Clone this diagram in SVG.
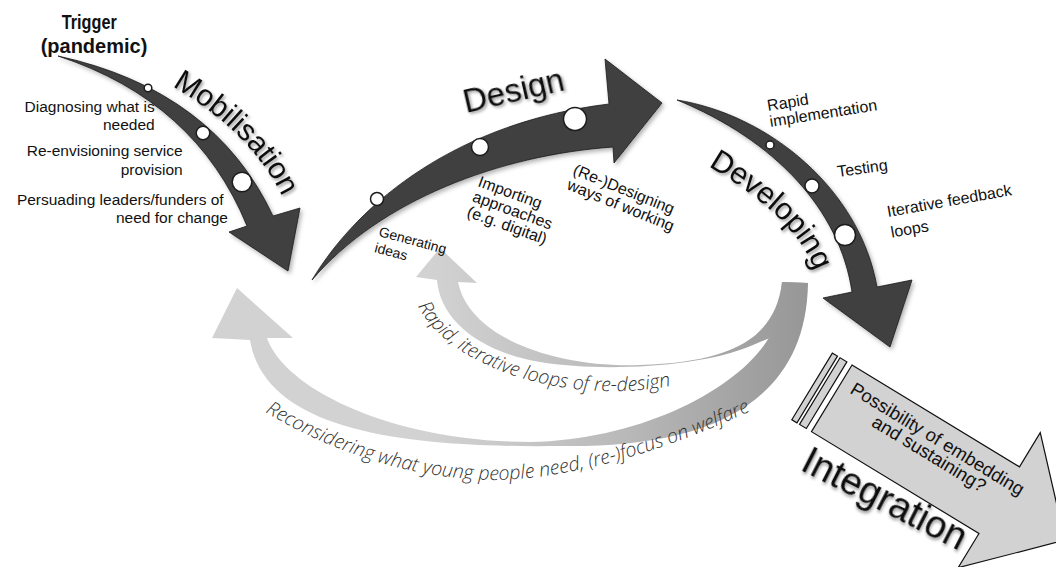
<svg xmlns="http://www.w3.org/2000/svg" width="1056" height="567" viewBox="0 0 1056 567">
  <style>
    .lbl { font-family: "Liberation Sans", Arial, sans-serif; font-size: 15.5px; fill: #111; }
    .lbl16 { font-family: "Liberation Sans", Arial, sans-serif; font-size: 16px; fill: #111; }
    .big { font-family: "Liberation Sans", Arial, sans-serif; fill: #111; }
    .hand { font-family: "Open Sans", "DejaVu Sans", sans-serif; font-style: italic; font-weight: 300; fill: #333; }
    .phase { fill: #3f3f3f; stroke: #1c1c1c; stroke-width: 0.8; }
    .dot { fill: #fff; stroke: #1c1c1c; stroke-width: 1.5; }
    .band { fill: #d2d2d2; stroke: #111; stroke-width: 1.2; }
  </style>
  <defs>
    <filter id="shade" x="-10%" y="-10%" width="130%" height="130%">
      <feDropShadow dx="2" dy="2.5" stdDeviation="2" flood-color="#000" flood-opacity="0.3"/>
    </filter>
    <filter id="tshade" x="-10%" y="-20%" width="130%" height="150%">
      <feDropShadow dx="1.5" dy="2" stdDeviation="1.5" flood-color="#000" flood-opacity="0.4"/>
    </filter>
    <linearGradient id="loopFill" gradientUnits="userSpaceOnUse" x1="430" y1="0" x2="805" y2="0">
      <stop offset="0" stop-color="#d2d2d2"/>
      <stop offset="0.5" stop-color="#bababa"/>
      <stop offset="1" stop-color="#979797"/>
    </linearGradient>
    <path id="pMob" d="M172,86 Q252,133 283,198"/>
    <path id="pDev" d="M708,166 Q797,218 815,272"/>
    <path id="pRapid" d="M418,306 C455,378 600,412 700,378"/>
    <path id="pRecon" d="M265,412 Q380,480 500,480 Q615,476 770,402"/>
  </defs>

  <rect width="1056" height="567" fill="#fff"/>

  <!-- feedback loops back into earlier phases -->
  <g id="connectors">
    <path id="loop-outer" fill="url(#loopFill)" d="M237,288 L293,338 L267,338 C285,390 395,442 530,442 C650,440 755,380 775,325 Q781,305 782,282 L808,283 C806,420 680,448 560,446 C400,448 265,430 250,340 L212,338 Z"/>
    <path id="loop-inner" fill="url(#loopFill)" d="M440,248 L477,283 L458,282 C470,340 560,368 640,365 C730,362 775,340 782,282 L808,283 L800,325 L753,345 C700,368 600,372 540,362 C480,352 440,320 437,280 L416,277 Z"/>
    <text class="hand" font-size="19.5"><textPath href="#pRapid">Rapid, iterative loops of re-design</textPath></text>
    <text class="hand" font-size="19.5"><textPath href="#pRecon">Reconsidering what young people need, (re-)focus on welfare</textPath></text>
  </g>

  <g id="trigger">
    <text class="big" font-weight="bold" font-size="20" text-anchor="middle">
      <tspan x="92" y="29" textLength="55" lengthAdjust="spacingAndGlyphs">Trigger</tspan>
      <tspan x="94" y="53">(pandemic)</tspan>
    </text>
  </g>

  <g id="mobilisation">
    <path class="phase" filter="url(#shade)" d="M58,56 Q214,90 273,216 L300,208 L288,271 L229,232 L247,226 Q196,101 58,56 Z"/>
    <circle class="dot" cx="148" cy="88" r="3.8"/>
    <circle class="dot" cx="203" cy="133" r="6.8"/>
    <circle class="dot" cx="242" cy="182" r="9.8"/>
    <text class="big" font-size="30" filter="url(#tshade)"><textPath href="#pMob">Mobilisation</textPath></text>
    <text class="lbl" text-anchor="end">
      <tspan x="159" y="112">Diagnosing what is</tspan>
      <tspan x="159" y="130">needed</tspan>
      <tspan x="187" y="156">Re-envisioning service</tspan>
      <tspan x="187" y="175">provision</tspan>
      <tspan x="228" y="205">Persuading leaders/funders of</tspan>
      <tspan x="228" y="223">need for change</tspan>
    </text>
  </g>

  <g id="design">
    <path class="phase" filter="url(#shade)" d="M312,280 C360,200 460,122 609,104 L605,59 L662,103 L614,163 L613,147 C500,155 380,200 312,280 Z"/>
    <circle class="dot" cx="377" cy="199" r="6.5"/>
    <circle class="dot" cx="480" cy="147" r="8.5"/>
    <circle class="dot" cx="575" cy="119" r="11.5"/>
    <text class="big" font-size="33" filter="url(#tshade)" transform="translate(466,113) rotate(-13)">Design</text>
    <text class="big" font-size="14" transform="translate(378,236) rotate(15)">
      <tspan x="0" y="0">Generating</tspan>
      <tspan x="0" y="16.5">ideas</tspan>
    </text>
    <text class="lbl16" transform="translate(477,186) rotate(20)">
      <tspan x="0" y="0">Importing</tspan>
      <tspan x="0" y="16">approaches</tspan>
      <tspan x="0" y="32">(e.g. digital)</tspan>
    </text>
    <text class="lbl16" transform="translate(572,174) rotate(22)">
      <tspan x="0" y="0">(Re-)Designing</tspan>
      <tspan x="0" y="16">ways of working</tspan>
    </text>
  </g>

  <g id="developing">
    <path class="phase" filter="url(#shade)" d="M677,100 C770,115 860,190 877,287 L912,280 L890,347 L823,298 L852,292 C840,210 775,140 677,100 Z"/>
    <circle class="dot" cx="770" cy="145" r="4"/>
    <circle class="dot" cx="812" cy="186" r="7"/>
    <circle class="dot" cx="845" cy="235" r="10.5"/>
    <text class="big" font-size="30.5" filter="url(#tshade)"><textPath href="#pDev">Developing</textPath></text>
    <text class="lbl16" transform="translate(768,111) rotate(-9)">
      <tspan x="0" y="0">Rapid</tspan>
      <tspan x="0" y="16.3">implementation</tspan>
    </text>
    <text class="lbl16" transform="translate(838,177) rotate(-8)">Testing</text>
    <text class="lbl16" transform="translate(888,217) rotate(-10)">
      <tspan x="0" y="0">Iterative feedback</tspan>
      <tspan x="0" y="21">loops</tspan>
    </text>
  </g>

  <g id="integration">
    <g transform="translate(852,365) rotate(31.3)">
      <rect class="band" x="-23" y="0" width="6" height="78"/>
      <rect class="band" x="-14" y="0" width="8" height="78"/>
      <path class="band" d="M0,0 H196 V-40 L273,39 L196,118 V78 H0 Z"/>
      <text class="big" font-size="18.5" text-anchor="middle">
        <tspan x="114" y="25">Possibility of embedding</tspan>
        <tspan x="112" y="42">and sustaining?</tspan>
      </text>
    </g>
    <text class="big" font-size="38" text-anchor="middle" filter="url(#tshade)" transform="translate(879,510) rotate(27)">Integration</text>
  </g>
</svg>
